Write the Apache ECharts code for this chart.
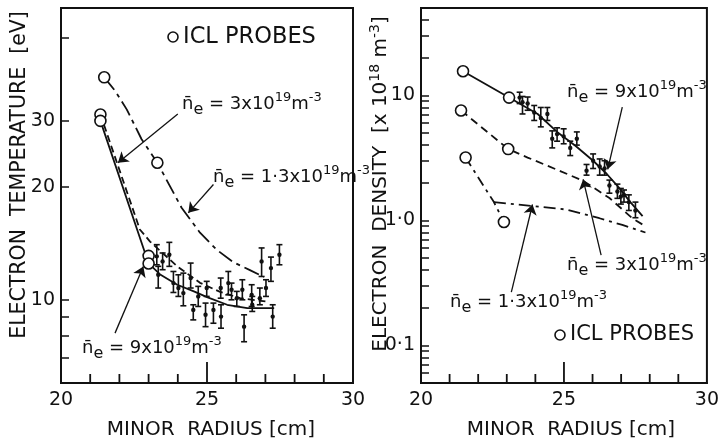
<!DOCTYPE html>
<html><head><meta charset="utf-8">
<script src="https://cdn.jsdelivr.net/npm/echarts@6/dist/echarts.min.js"></script>
<style>html,body{margin:0;padding:0;background:#fff}#c{width:722px;height:441px}</style>
</head><body><div id="c"></div>
<script>
// ---------------- data ----------------
const xRange = [20, 30];
const xTickValues = [21, 22, 23, 24, 25, 26, 27, 28, 29];
const tempRange = [6, 60];
const densRange = [0.05, 50];
const tempTickValues = [7, 8, 9, 10, 20, 30, 50];
const tempTickLabels = [10, 20, 30];
const densTickValues = [0.06,0.07,0.08,0.09,0.1,0.2,0.3,0.4,0.5,0.6,0.7,0.8,0.9,1,2,3,4,5,6,7,8,9,10,20,30,40];
const densTickLabels = [0.1, 1, 10];

// Left panel: electron temperature [eV]
const tempProbes = [[21.48,39.2],[23.3,23.2],[21.35,31.2],[23.0,13.1],[21.35,30.0],[23.0,12.5]];
const tempCurve13 = [[21.48,39.2],[21.85,36.1],[22.25,32.2],[22.76,26.8],[23.3,23.2],[23.73,20.1],[24.13,17.6],[24.76,15.1],[25.33,13.6],[25.9,12.6],[26.47,12.0],[26.95,11.5]];
const tempCurve3 = [[21.35,31.2],[22.7,15.4],[23.05,14.3],[23.4,13.5],[23.97,12.3],[24.76,11.1],[25.45,10.5],[26.13,10.1],[27.0,9.9]];
const tempCurve9 = [[21.35,30.0],[23.0,12.5],[23.41,11.66],[23.98,10.97],[24.55,10.53],[25.0,10.17],[25.69,9.7],[26.38,9.5],[27.3,9.5]];
// [radius, Te, low, high]
const tempErr = [
 [23.28,13.06,12.40,14.03],[23.33,11.66,10.75,12.28],[23.48,12.66,12.03,13.33],[23.71,13.19,12.28,14.23],
 [23.85,11.08,10.46,11.90],[24.02,10.75,10.21,11.66],[24.19,10.42,9.64,11.78],[24.44,11.43,10.75,12.53],
 [24.53,9.40,8.84,9.70],[24.70,10.21,9.60,10.86],[24.95,9.12,8.48,9.80],[24.99,10.75,10.21,11.20],
 [25.22,9.40,8.66,9.80],[25.47,10.75,10.10,11.43],[25.48,9.02,8.40,9.70],[25.73,11.08,10.31,11.90],
 [25.84,10.64,10.0,11.08],[26.02,10.10,9.60,10.53],[26.21,10.64,10.0,11.31],[26.27,8.48,7.73,9.12],
 [26.53,10.31,9.60,10.97],[26.55,9.70,9.31,10.21],[26.81,10.10,9.70,10.75],[26.87,12.66,11.54,13.75],
 [27.02,10.75,10.21,11.31],[27.19,12.15,11.20,13.00],[27.25,9.02,8.40,9.70],[27.48,13.19,12.40,14.03]
];

// Right panel: electron density [x1e18 m^-3]
const densProbes = [[21.47,15.6],[23.08,9.6],[21.4,7.57],[23.05,3.72],[21.56,3.18],[22.9,0.97]];
const densCurve9 = [[21.47,15.6],[23.08,9.6],[24.08,7.1],[24.76,5.1],[25.4,3.95],[26.02,3.0],[26.5,2.35],[26.93,1.82],[27.3,1.42],[27.75,1.08]];
const densCurve3 = [[21.4,7.57],[23.05,3.72],[23.73,3.18],[24.87,2.48],[25.67,2.07],[26.59,1.51],[27.39,1.04],[27.84,0.9]];
const densProbe13 = [[21.56,3.18],[22.55,1.4],[22.9,0.97]];
const densCurve13 = [[22.55,1.4],[23.96,1.30],[25.1,1.22],[26.24,1.04],[27.04,0.92],[27.85,0.8]];
const densErr = [
 [23.45,9.6,8.6,10.6],[23.55,8.8,7.1,9.8],[23.73,8.6,7.6,9.7],[23.96,7.3,6.3,8.3],[24.19,6.6,5.6,8.0],
 [24.42,7.1,6.3,8.0],[24.59,4.5,3.8,5.2],[24.76,4.9,4.3,5.5],[24.99,4.7,4.1,5.4],[25.22,3.8,3.3,4.3],
 [25.45,4.5,4.0,5.1],[25.79,2.5,2.3,2.8],[26.02,3.0,2.6,3.4],[26.25,2.7,2.3,3.1],[26.42,2.6,2.3,3.0],
 [26.59,1.9,1.65,2.1],[26.87,1.7,1.5,1.95],[26.99,1.55,1.35,1.8],[27.10,1.6,1.4,1.75],[27.27,1.4,1.2,1.6],
 [27.50,1.2,1.05,1.4]
];

// annotation arrows [from, to] in data coordinates
const tempArrows = [[[24.0,31.3],[21.95,23.2]],[[25.22,20.3],[24.36,17.06]],[[21.85,8.15],[22.82,12.27]]];
const densArrows = [[[27.04,8.05],[26.53,2.56]],[[26.30,0.528],[25.67,2.13]],[[23.16,0.267],[23.90,1.34]]];

// ---------------- chart ----------------
const F = '"DejaVu Sans", sans-serif';
const K = '#111';
const chart = echarts.init(document.getElementById('c'), null, {renderer:'canvas'});

function xAxis(i){
  return {type:'value', gridIndex:i, position:'bottom', min:xRange[0], max:xRange[1], interval:5,
    axisLine:{show:true, onZero:false, lineStyle:{color:K, width:2}},
    axisTick:{show:false},
    axisLabel:{fontSize:19, color:K, fontFamily:F, margin:8},
    splitLine:{show:false}};
}
function yAxis(i, range, ticks, labels, fmt){
  return {type:'log', logBase:10, gridIndex:i, min:range[0], max:range[1],
    axisLine:{show:true, onZero:false, lineStyle:{color:K, width:2}},
    axisTick:{show:true, inside:true, length:8, customValues:ticks, lineStyle:{color:K, width:1.5}},
    axisLabel:{customValues:labels, fontSize:19, color:K, fontFamily:F, margin:6, formatter:fmt},
    minorTick:{show:false}, splitLine:{show:false}};
}
function line(data, xi, type, extra){
  return Object.assign({type:'line', xAxisIndex:xi, yAxisIndex:xi, data:data, symbol:'none', silent:true,
    lineStyle:{color:K, width:1.8, type:type}, z:3}, extra||{});
}
function probes(data, xi){
  return {type:'scatter', xAxisIndex:xi, yAxisIndex:xi, data:data, symbol:'circle', symbolSize:11, silent:true,
    itemStyle:{color:'#fff', borderColor:K, borderWidth:1.6, opacity:1}, z:6};
}
function errbars(data, xi){
  return {type:'custom', xAxisIndex:xi, yAxisIndex:xi, data:data, silent:true, z:4,
    encode:{x:0, y:[1,2,3]},
    renderItem:function(params, api){
      const x=api.value(0), p=api.coord([x,api.value(1)]), lo=api.coord([x,api.value(2)]), hi=api.coord([x,api.value(3)]);
      const st={stroke:K, lineWidth:1.6}, w=3;
      return {type:'group', children:[
        {type:'line', shape:{x1:lo[0],y1:lo[1],x2:hi[0],y2:hi[1]}, style:st},
        {type:'line', shape:{x1:lo[0]-w,y1:lo[1],x2:lo[0]+w,y2:lo[1]}, style:st},
        {type:'line', shape:{x1:hi[0]-w,y1:hi[1],x2:hi[0]+w,y2:hi[1]}, style:st},
        {type:'circle', shape:{cx:p[0],cy:p[1],r:2.2}, style:{fill:K}}
      ]};
    }};
}
function arrows(list){
  return {silent:true, symbol:['none','arrow'], symbolSize:10, label:{show:false}, animation:false,
    lineStyle:{color:K, width:1.3, type:'solid'}, emphasis:{disabled:true},
    data:list.map(a=>[{coord:a[0]},{coord:a[1]}])};
}

const rich = {
  n:{fontSize:18, fontFamily:F, lineHeight:20, fill:K},
  e:{fontSize:16, fontFamily:F, lineHeight:16, padding:[12,0,0,0], fill:K},
  t:{fontSize:18, fontFamily:F, lineHeight:20, fill:K},
  s:{fontSize:13, fontFamily:F, lineHeight:13, padding:[0,0,12,0], fill:K},
  T:{fontSize:20, fontFamily:F, lineHeight:22, fill:K},
  S:{fontSize:14, fontFamily:F, lineHeight:14, padding:[0,0,12,0], fill:K}
};
function ne(v){ return '{n|n\u0304}{e|e}{t| = '+v+'x10}{s|19}{t|m}{s|-3}'; }
function txt(x, y, text, extra){
  return Object.assign({type:'text', x:x, y:y, silent:true,
    style:{text:text, rich:rich, fill:K, font:'20px '+F, align:'left', verticalAlign:'middle'}}, extra||{});
}
function plain(x, y, text, size, align, rot){
  const o = {type:'text', x:x, y:y, silent:true,
    style:{text:text, fill:K, font:size+'px '+F, align:align, verticalAlign:'middle'}};
  if (rot) o.rotation = rot;
  return o;
}

const graphics = [
  // axis titles
  plain(20, 175, 'ELECTRON  TEMPERATURE  [eV]', 20.5, 'center', Math.PI/2),
  plain(211, 430, 'MINOR  RADIUS [cm]', 20, 'center'),
  plain(571, 430, 'MINOR  RADIUS [cm]', 20, 'center'),
  txt(381, 184, '', {rotation:Math.PI/2, style:{text:'{T|ELECTRON  DENSITY  [x 10}{S|18}{T| m}{S|-3}{T|]}', rich:rich, fill:K, align:'center', verticalAlign:'middle'}}),
  // legends
  {type:'circle', shape:{cx:173, cy:37, r:5}, style:{fill:'#fff', stroke:K, lineWidth:1.6}, silent:true},
  plain(183, 37, 'ICL PROBES', 22.5, 'left'),
  {type:'circle', shape:{cx:560, cy:335, r:5}, style:{fill:'#fff', stroke:K, lineWidth:1.6}, silent:true},
  plain(570, 335, 'ICL PROBES', 21, 'left'),
  // annotations
  txt(182, 104, ne('3')),
  txt(213, 177, ne('1\u00b73')),
  txt(82, 348, ne('9')),
  txt(567, 92, ne('9')),
  txt(567, 265, ne('3')),
  txt(450, 302, ne('1\u00b73'))
];

const option = {
  animation:false,
  grid:[
    {left:61, top:8, width:292, height:375, show:true, borderColor:K, borderWidth:2, backgroundColor:'transparent'},
    {left:421, top:8, width:292, height:375, show:true, borderColor:K, borderWidth:2, backgroundColor:'transparent'}
  ],
  xAxis:[xAxis(0), xAxis(1)],
  yAxis:[
    yAxis(0, tempRange, tempTickValues, tempTickLabels, v=>String(Math.round(v))),
    yAxis(1, densRange, densTickValues, densTickLabels, v=> v<0.5 ? '0\u00b71' : (v<5 ? '1\u00b70' : '10'))
  ],
  series:[
    line(tempCurve13, 0, [16,5,4,5]),
    line(tempCurve3, 0, [7,4]),
    line(tempCurve9, 0, 'solid', {markLine:arrows(tempArrows)}),
    errbars(tempErr, 0),
    probes(tempProbes, 0),
    line(densCurve13, 1, [12,5,3,5]),
    line(densProbe13, 1, [10,5,3,5]),
    line(densCurve3, 1, [8,5]),
    line(densCurve9, 1, 'solid', {markLine:arrows(densArrows)}),
    errbars(densErr, 1),
    probes(densProbes, 1)
  ],
  graphic: graphics
};
chart.setOption(option);

// inward x-axis ticks, positioned through the axis scales (longer tick at multiples of 5)
const tickEls = [];
[[0, tempRange[0]], [1, densRange[0]]].forEach(function(g){
  xTickValues.forEach(function(v){
    const p = chart.convertToPixel({gridIndex:g[0]}, [v, g[1]]);
    if (!p || isNaN(p[0]) || isNaN(p[1])) return;
    const len = (v % 5 === 0) ? 21 : 9;
    tickEls.push({type:'line', silent:true, z:100, shape:{x1:p[0], y1:p[1], x2:p[0], y2:p[1]-len},
      style:{stroke:K, lineWidth:1.8}});
  });
});
chart.setOption({graphic: graphics.concat(tickEls)});
</script></body></html>
